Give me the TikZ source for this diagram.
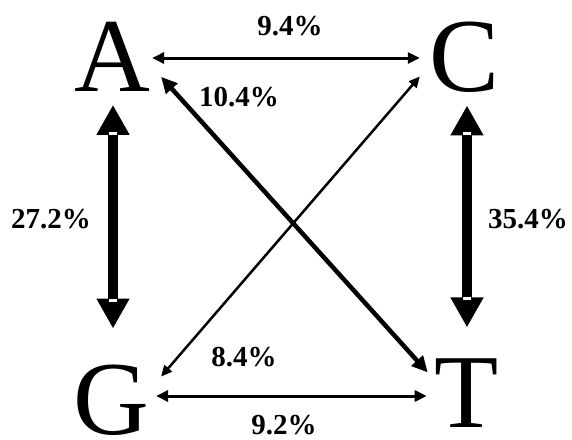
\documentclass[tikz,border=0pt]{standalone}
\usepackage{fontspec}
\setmainfont{Liberation Serif}
\usepackage{tikz}
\usetikzlibrary{positioning,calc,arrows.meta}

\begin{document}
\begin{tikzpicture}[x=1pt, y=-1pt,
    letter/.style={inner sep=0pt, font=\fontsize{105}{105}\selectfont},
    pct/.style={inner sep=0pt, font=\fontsize{29}{29}\selectfont\bfseries},
    fatarrow/.style={line width=10pt, {Triangle[width=31pt,length=30pt]}-{Triangle[width=31pt,length=30pt]}},
    thinarrow/.style={line width=3pt, {Triangle[width=11pt,length=12pt]}-{Triangle[width=11pt,length=12pt]}},
    notch/.style={fill=white}]
    \useasboundingbox (0,0) rectangle (572,439);

    % bases
    \node[letter] (A) at (112,57) {A};
    \node[letter] (C) at (465,57) {C};
    \node[letter] (G) at (111,400) {G};
    \node[letter] (T) at (467,393) {T};

    % ends of the fat arrows
    \coordinate (ag1) at ($(A.south)+(1,13)$);
    \coordinate (ag2) at ($(G.north)+(2,-36)$);
    \coordinate (ct1) at ($(C.south)+(2,13)$);
    \coordinate (ct2) at ($(T.north)+(0,-31)$);

    % transitions
    \draw[thinarrow] ($(A.east)+(2,1)$) -- ($(C.west)+(-10,1)$);
    \draw[thinarrow] ($(G.east)+(7,-4)$) -- ($(T.west)+(-8,3)$);
    \draw[fatarrow] (ag1) -- (ag2);
    \draw[fatarrow] (ct1) -- (ct2);
    \fill[notch] ($(ag1)+(-4,27)$) rectangle +(8,3);
    \fill[notch] ($(ag2)+(-4,-30)$) rectangle +(8,3);
    \fill[notch] ($(ct1)+(-4,27)$) rectangle +(8,3);
    \fill[notch] ($(ct2)+(-4,-30)$) rectangle +(8,3);
    \draw[line width=4.5pt, {Triangle[width=15pt,length=16pt]}-{Triangle[width=15pt,length=16pt]}]
        ($(A.south east)+(11,-15)$) -- ($(T.north west)+(-7,14)$);
    \draw[line width=2.5pt, {Triangle[width=10pt,length=11pt]}-{Triangle[width=10pt,length=11pt]}]
        ($(C.south west)+(-10,-16)$) -- ($(G.north east)+(12,12)$);

    % rates
    \node[pct] (ac) at (290,26) {9.4\%};
    \node[pct] (at) at (239,97) {10.4\%};
    \node[pct] (ag) at (51,219) {27.2\%};
    \node[pct] (ct) at (528,219) {35.4\%};
    \node[pct] (cg) at (244,357) {8.4\%};
    \node[pct] (gt) at (284,425) {9.2\%};
\end{tikzpicture}
\end{document}
